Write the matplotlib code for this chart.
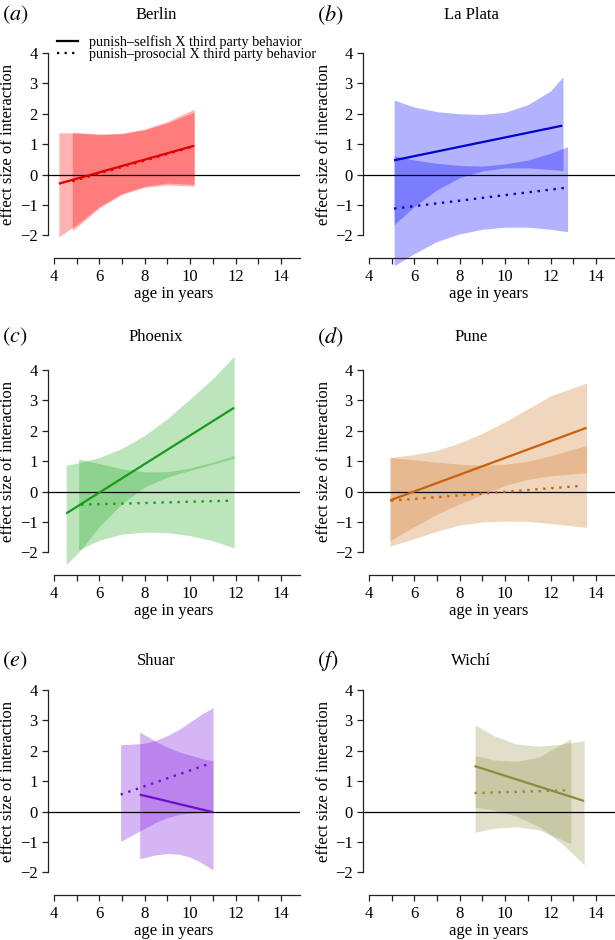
import matplotlib
matplotlib.use("Agg")
import matplotlib.pyplot as plt
import matplotlib.transforms as mtransforms
from matplotlib.lines import Line2D

plt.rcParams["font.family"] = ["Liberation Serif", "DejaVu Serif"]
plt.rcParams["mathtext.fontset"] = "stix"

# ── Data ────────────────────────────────────────────────────────────────────
# each city: solid line (punish-selfish), dotted line (punish-prosocial),
# and one credible band for each.

berlin_sol_x = [4.22, 10.18]
berlin_sol_y = [-0.30, 0.95]
berlin_dot_x = [4.81, 10.18]
berlin_dot_y = [-0.22, 0.93]
berlin_bs_x = [4.22, 5, 6, 7, 8, 9, 10.18]
berlin_bs_hi = [1.38, 1.36, 1.32, 1.36, 1.50, 1.75, 2.15]
berlin_bs_lo = [-2.05, -1.65, -1.05, -0.62, -0.38, -0.28, -0.32]
berlin_bd_x = [4.81, 6, 7, 8, 9, 10.18]
berlin_bd_hi = [1.40, 1.33, 1.34, 1.47, 1.70, 2.05]
berlin_bd_lo = [-1.85, -1.10, -0.65, -0.42, -0.34, -0.38]

laplata_sol_x = [5.11, 12.52]
laplata_sol_y = [0.47, 1.61]
laplata_dot_x = [5.11, 12.60]
laplata_dot_y = [-1.12, -0.44]
laplata_bs_x = [5.11, 6, 7, 8, 9, 10, 11, 12, 12.55]
laplata_bs_hi = [2.45, 2.22, 2.07, 2.00, 1.98, 2.05, 2.30, 2.75, 3.22]
laplata_bs_lo = [-1.65, -1.05, -0.50, -0.10, 0.12, 0.22, 0.22, 0.17, 0.13]
laplata_bd_x = [5.11, 6, 7, 8, 9, 10, 11, 12, 12.75]
laplata_bd_hi = [0.62, 0.48, 0.37, 0.30, 0.28, 0.35, 0.48, 0.70, 0.92]
laplata_bd_lo = [-3.00, -2.60, -2.20, -1.95, -1.80, -1.73, -1.73, -1.80, -1.88]

phoenix_sol_x = [4.54, 11.94]
phoenix_sol_y = [-0.72, 2.76]
phoenix_dot_x = [5.20, 11.80]
phoenix_dot_y = [-0.43, -0.30]
phoenix_bs_x = [4.54, 5.09, 6, 7, 8, 9, 10, 11, 11.94]
phoenix_bs_hi = [0.87, 0.95, 1.12, 1.42, 1.85, 2.40, 3.05, 3.72, 4.45]
phoenix_bs_lo = [-2.40, -2.00, -1.15, -0.40, 0.15, 0.48, 0.70, 0.90, 1.10]
phoenix_bd_x = [5.09, 6, 7, 8, 9, 10, 11, 11.94]
phoenix_bd_hi = [1.08, 0.92, 0.75, 0.65, 0.65, 0.78, 0.97, 1.18]
phoenix_bd_lo = [-1.92, -1.60, -1.40, -1.33, -1.35, -1.45, -1.62, -1.85]

pune_sol_x = [4.93, 13.59]
pune_sol_y = [-0.29, 2.10]
pune_dot_x = [4.98, 13.37]
pune_dot_y = [-0.30, 0.19]
pune_bs_x = [4.93, 6, 7, 8, 9, 10, 11, 12, 13.59]
pune_bs_hi = [1.12, 1.22, 1.36, 1.60, 1.92, 2.30, 2.72, 3.15, 3.57]
pune_bs_lo = [-1.62, -1.15, -0.75, -0.40, -0.10, 0.20, 0.40, 0.52, 0.62]
pune_bd_x = [4.93, 6, 7, 8, 9, 10, 11, 12, 13.59]
pune_bd_hi = [1.12, 1.05, 0.97, 0.90, 0.87, 0.90, 1.00, 1.18, 1.52]
pune_bd_lo = [-1.80, -1.55, -1.30, -1.10, -1.00, -0.97, -0.98, -1.05, -1.18]

shuar_sol_x = [7.78, 11.01]
shuar_sol_y = [0.56, -0.02]
shuar_dot_x = [6.94, 10.87]
shuar_dot_y = [0.56, 1.58]
shuar_bs_x = [7.78, 8.5, 9, 9.5, 10, 10.5, 11.01]
shuar_bs_hi = [2.62, 2.30, 2.12, 1.97, 1.86, 1.75, 1.67]
shuar_bs_lo = [-1.55, -1.42, -1.38, -1.40, -1.50, -1.68, -1.92]
shuar_bd_x = [6.94, 7.5, 8, 8.5, 9, 9.5, 10, 10.5, 11.01]
shuar_bd_hi = [2.20, 2.22, 2.25, 2.35, 2.50, 2.70, 2.95, 3.20, 3.42]
shuar_bd_lo = [-0.98, -0.75, -0.55, -0.35, -0.20, -0.10, -0.05, -0.02, 0.00]

wichi_sol_x = [8.65, 13.48]
wichi_sol_y = [1.50, 0.35]
wichi_dot_x = [8.65, 12.78]
wichi_dot_y = [0.61, 0.70]
wichi_bs_x = [8.68, 9.5, 10.5, 11.5, 12.5, 13.48]
wichi_bs_hi = [2.85, 2.50, 2.22, 2.15, 2.22, 2.33]
wichi_bs_lo = [0.15, 0.05, -0.15, -0.50, -1.05, -1.75]
wichi_bd_x = [8.68, 9.5, 10.5, 11.5, 12.9]
wichi_bd_hi = [1.85, 1.70, 1.65, 1.80, 2.40]
wichi_bd_lo = [-0.68, -0.55, -0.50, -0.60, -1.05]

CITIES = ["Berlin", "La Plata", "Phoenix", "Pune", "Shuar", "Wichí"]
LETTERS = ["a", "b", "c", "d", "e", "f"]
LINE_COLORS = ["#e00000", "#0000d0", "#1a9a1a", "#c8600c", "#6a10d0", "#8c8c3c"]
FILL_COLORS = ["#ff0000", "#0000ff", "#22aa22", "#d2782a", "#8a2be2", "#969650"]
FILL_ALPHA = [0.3, 0.3, 0.3, 0.3, 0.35, 0.3]
LEGEND_LABELS = ["punish–selfish X third party behavior",
                 "punish–prosocial X third party behavior"]

PANELS = [
    (berlin_sol_x, berlin_sol_y, berlin_dot_x, berlin_dot_y,
     berlin_bs_x, berlin_bs_lo, berlin_bs_hi, berlin_bd_x, berlin_bd_lo, berlin_bd_hi),
    (laplata_sol_x, laplata_sol_y, laplata_dot_x, laplata_dot_y,
     laplata_bs_x, laplata_bs_lo, laplata_bs_hi, laplata_bd_x, laplata_bd_lo, laplata_bd_hi),
    (phoenix_sol_x, phoenix_sol_y, phoenix_dot_x, phoenix_dot_y,
     phoenix_bs_x, phoenix_bs_lo, phoenix_bs_hi, phoenix_bd_x, phoenix_bd_lo, phoenix_bd_hi),
    (pune_sol_x, pune_sol_y, pune_dot_x, pune_dot_y,
     pune_bs_x, pune_bs_lo, pune_bs_hi, pune_bd_x, pune_bd_lo, pune_bd_hi),
    (shuar_sol_x, shuar_sol_y, shuar_dot_x, shuar_dot_y,
     shuar_bs_x, shuar_bs_lo, shuar_bs_hi, shuar_bd_x, shuar_bd_lo, shuar_bd_hi),
    (wichi_sol_x, wichi_sol_y, wichi_dot_x, wichi_dot_y,
     wichi_bs_x, wichi_bs_lo, wichi_bs_hi, wichi_bd_x, wichi_bd_lo, wichi_bd_hi),
]

X_TICKS = list(range(4, 15))
Y_TICKS = list(range(-2, 5))

# ── Layout (pixels) ─────────────────────────────────────────────────────────
W, H = 615, 940
XLIM = (3.74, 14.84)
YLIM = (-3.1, 4.55)
X_AXIS_AT = -2.75
COL_LEFT = [48, 363]
ROW_TOP = [36.3, 353.3, 673.3]
TITLE_Y = [15, 337, 661]
AX_W, AX_H = 252, 232.5
DOTTED = (0, (1, 2.4))

fig = plt.figure(figsize=(W / 100, H / 100), dpi=100)

for i, city in enumerate(CITIES):
    row, col = divmod(i, 2)
    left, top = COL_LEFT[col], ROW_TOP[row]
    ax = fig.add_axes([left / W, 1 - (top + AX_H) / H, AX_W / W, AX_H / H])
    ax.patch.set_visible(False)
    sx, sy, dx, dy, bsx, bslo, bshi, bdx, bdlo, bdhi = PANELS[i]

    ax.fill_between(bsx, bslo, bshi, color=FILL_COLORS[i], alpha=FILL_ALPHA[i], lw=0)
    ax.fill_between(bdx, bdlo, bdhi, color=FILL_COLORS[i], alpha=FILL_ALPHA[i], lw=0)
    ax.axhline(0, color="black", lw=0.9, zorder=3)
    ax.plot(sx, sy, color=LINE_COLORS[i], lw=1.6, solid_capstyle="butt", zorder=4)
    ax.plot(dx, dy, color=LINE_COLORS[i], lw=1.7, ls=DOTTED, zorder=4)

    ax.set_xlim(*XLIM)
    ax.set_ylim(*YLIM)
    for s in ("top", "right"):
        ax.spines[s].set_visible(False)
    ax.spines["left"].set_bounds(-2, 4)
    ax.spines["bottom"].set_position(("data", X_AXIS_AT))
    ax.spines["bottom"].set_bounds(4, XLIM[1])
    for s in ("left", "bottom"):
        ax.spines[s].set_linewidth(0.9)
        ax.spines[s].set_color("#222222")

    ax.set_xticks(X_TICKS)
    ax.set_xticklabels([str(t) if t % 2 == 0 else "" for t in X_TICKS])
    ax.set_yticks(Y_TICKS)
    ax.tick_params(direction="out", length=4.5, width=0.9, color="#222222",
                   labelsize=12, pad=3)

    # axis labels
    ax.text(0.5, -0.109, "age in years", transform=ax.transAxes,
            ha="center", va="center", fontsize=12)
    ax.text(-39.5 / AX_W, (1 - YLIM[0]) / (YLIM[1] - YLIM[0]),
            "effect size of interaction", transform=ax.transAxes,
            rotation=90, ha="center", va="center", fontsize=12)

    # title + panel letter
    ty = 1 + (top - TITLE_Y[row]) / AX_H
    trans = mtransforms.blended_transform_factory(ax.transData, ax.transAxes)
    ax.text(8.5, ty, city, transform=trans, ha="center", va="center", fontsize=12)
    ax.text(-46 / AX_W, ty, rf"$({LETTERS[i]})$", transform=ax.transAxes,
            ha="left", va="center", fontsize=16)

    if i == 0:
        handles = [Line2D([], [], color="black", lw=1.6),
                   Line2D([], [], color="black", lw=1.6, ls=DOTTED)]
        ax.legend(handles, LEGEND_LABELS,
                  loc="upper left", bbox_to_anchor=(57 / W, 1 - 35.5 / H),
                  bbox_transform=fig.transFigure, frameon=False,
                  fontsize=10.3, labelspacing=-0.12, handlelength=1.5,
                  handletextpad=0.72, borderpad=0, borderaxespad=0)

fig.savefig("out.png", dpi=100)
